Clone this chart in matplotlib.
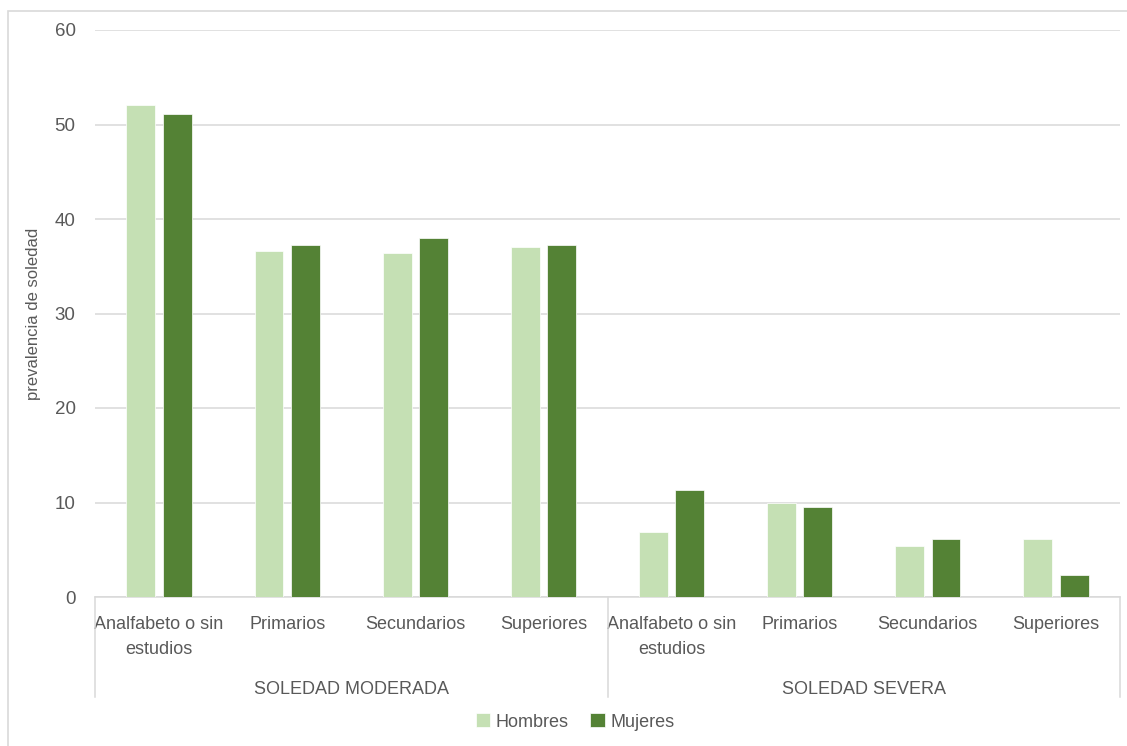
import matplotlib.pyplot as plt
import matplotlib.transforms as mtransforms
from matplotlib.patches import Rectangle
import numpy as np

# categorías y valores (prevalencia de soledad, %)
categorias = ['Analfabeto o sin\nestudios', 'Primarios', 'Secundarios', 'Superiores',
              'Analfabeto o sin\nestudios', 'Primarios', 'Secundarios', 'Superiores']
grupos = ['SOLEDAD MODERADA', 'SOLEDAD SEVERA']
hombres = [52.1, 36.6, 36.4, 37.0, 6.9, 10.0, 5.4, 6.1]
mujeres = [51.1, 37.2, 38.0, 37.2, 11.3, 9.5, 6.1, 2.3]

color_h = '#C5E0B4'
color_m = '#548235'
gris_texto = '#595959'
gris_linea = '#D9D9D9'

plt.rcParams['font.family'] = ['Liberation Sans', 'DejaVu Sans']

fig = plt.figure(figsize=(11.27, 7.46), dpi=100)
ax = fig.add_axes([95 / 1127, 1 - 597 / 746, 1025 / 1127, 567 / 746])

# marco exterior del gráfico
fig.patches.append(Rectangle((8 / 1127, -0.2), 1.2, 1.2 - 11 / 746, transform=fig.transFigure,
                             fill=False, edgecolor=gris_linea, lw=1.2, zorder=0))

x = np.arange(len(categorias))
ancho = 0.225
ax.bar(x - 0.142, hombres, ancho, color=color_h, edgecolor='white', lw=0.5, label='Hombres', zorder=3)
ax.bar(x + 0.142, mujeres, ancho, color=color_m, edgecolor='white', lw=0.5, label='Mujeres', zorder=3)

ax.set_xlim(-0.5, len(categorias) - 0.5)
ax.set_ylim(0, 60)
ax.set_yticks(np.arange(0, 61, 10))
ax.yaxis.grid(True, color=gris_linea, lw=1.1)
ax.set_axisbelow(True)
for lado in ['top', 'right', 'left']:
    ax.spines[lado].set_visible(False)
ax.spines['bottom'].set_color(gris_linea)
ax.spines['bottom'].set_linewidth(1.1)

ax.set_xticks(x)
ax.set_xticklabels(categorias, linespacing=1.55)
ax.tick_params(axis='x', length=0, pad=14, labelsize=13, labelcolor=gris_texto)
ax.tick_params(axis='y', length=0, pad=14, labelsize=13.5, labelcolor=gris_texto)
ax.set_ylabel('prevalencia de soledad', fontsize=12, color=gris_texto)
ax.yaxis.set_label_coords(-54 / 1025, 0.5)

# separadores y etiquetas de grupo bajo el eje
trans = mtransforms.blended_transform_factory(ax.transData, ax.transAxes)
for xs in [-0.5, 3.5, 7.5]:
    ax.plot([xs, xs], [0, -100 / 567], transform=trans, color=gris_linea, lw=1.1, clip_on=False)
for i, g in enumerate(grupos):
    ax.text(1.5 + 4 * i, -92 / 567, g, transform=trans, ha='center', va='center',
            fontsize=13, color=gris_texto)

fig.legend(loc='center', bbox_to_anchor=(575 / 1127, 1 - 722 / 746), ncol=2, frameon=False,
           fontsize=13, labelcolor=gris_texto, handlelength=0.8, handleheight=0.8,
           handletextpad=0.3, columnspacing=1.2)

fig.savefig('out.png', dpi=100)
